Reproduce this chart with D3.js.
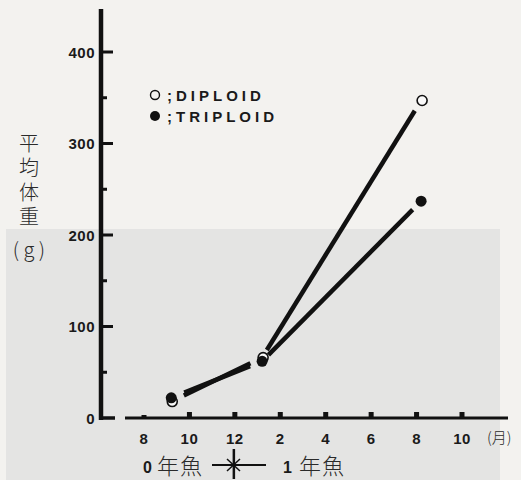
<!DOCTYPE html>
<html>
<head>
<meta charset="utf-8">
<script src="https://cdn.jsdelivr.net/npm/d3@7"></script>
<style>
  body { margin: 0; background: #f3f2ef; }
  svg { display: block; }
  .num { font-family: "Liberation Sans", Arial, sans-serif; font-weight: bold; fill: #1a1a1a; }
  .cjk { font-family: "Noto Sans CJK JP", sans-serif; font-weight: 300; fill: #2a2a2a; }
</style>
</head>
<body>
<div id="chart"></div>
<script>
// month index: 8..12 = year 0, 13..22 = next year (1..10)
var months = [9.2, 13.2, 20.2]
var diploid = [18, 66, 347]
var triploid = [22, 62, 237]
var xTicks = [8, 10, 12, 14, 16, 18, 20, 22]
var yTicks = [0, 100, 200, 300, 400]
var yMinor = [50, 150, 250, 350]
var yLabel = "平均体重"

var W = 521, H = 480
var svg = d3.select("#chart").append("svg").attr("width", W).attr("height", H)

// scanned page background
svg.append("rect").attr("width", W).attr("height", H).attr("fill", "#f3f2ef")
svg.append("rect").attr("x", 6).attr("y", 229).attr("width", 494).attr("height", 251).attr("fill", "#e4e4e3")

var x = d3.scaleLinear().domain([8, 22]).range([144, 462])
var y = d3.scaleLinear().domain([0, 400]).range([418, 52])
var axisX = 101

// y axis
svg.append("line").attr("x1", axisX).attr("x2", axisX).attr("y1", 9).attr("y2", y(0) + 2)
    .attr("stroke", "#111").attr("stroke-width", 4.5)
svg.append("line").attr("x1", axisX).attr("x2", 115).attr("y1", y(0)).attr("y2", y(0))
    .attr("stroke", "#111").attr("stroke-width", 3.5)
svg.selectAll(".ymaj").data(yTicks.slice(1)).enter().append("line")
    .attr("x1", axisX).attr("x2", axisX + 12)
    .attr("y1", function (d) { return y(d) }).attr("y2", function (d) { return y(d) })
    .attr("stroke", "#111").attr("stroke-width", 3)
svg.selectAll(".ymin").data(yMinor).enter().append("line")
    .attr("x1", axisX).attr("x2", axisX + 6)
    .attr("y1", function (d) { return y(d) }).attr("y2", function (d) { return y(d) })
    .attr("stroke", "#111").attr("stroke-width", 3)
svg.selectAll(".ylab").data(yTicks).enter().append("text")
    .attr("class", "num")
    .attr("x", 95).attr("y", function (d) { return y(d) + 5.5 })
    .attr("text-anchor", "end").attr("font-size", 15).attr("letter-spacing", 0.5)
    .text(function (d) { return d })

// x axis
svg.append("line").attr("x1", 125).attr("x2", 508).attr("y1", y(0)).attr("y2", y(0))
    .attr("stroke", "#111").attr("stroke-width", 3)
svg.selectAll(".xt").data(xTicks).enter().append("rect")
    .attr("x", function (d) { return x(d) - 2.5 })
    .attr("y", function (d) { return d == 8 ? y(0) - 3 : y(0) - 6 })
    .attr("width", 5).attr("height", function (d) { return d == 8 ? 3 : 6 })
    .attr("fill", "#111")
svg.selectAll(".xlab").data(xTicks).enter().append("text")
    .attr("class", "num")
    .attr("x", function (d) { return x(d) }).attr("y", 444)
    .attr("text-anchor", "middle").attr("font-size", 15).attr("letter-spacing", 0.5)
    .text(function (d) { return d > 12 ? d - 12 : d })
svg.append("text").attr("class", "cjk").attr("x", 487).attr("y", 443)
    .attr("font-size", 15).text("(月)")

// y label, set vertically
svg.append("text").attr("class", "cjk")
    .attr("x", 29).attr("y", 133)
    .attr("writing-mode", "vertical-rl")
    .attr("font-size", 20).attr("letter-spacing", 4.5)
    .text(yLabel)
svg.append("text").attr("class", "cjk").attr("x", 29).attr("y", 257)
    .attr("text-anchor", "middle").attr("font-size", 20).text("( g )")

// lines drawn with gaps around the markers
function drawSeries(vals, gapA, gapB) {
    for (var i = 0; i < vals.length - 1; i++) {
        var x1 = x(months[i]), y1 = y(vals[i]), x2 = x(months[i + 1]), y2 = y(vals[i + 1])
        var len = Math.sqrt((x2 - x1) * (x2 - x1) + (y2 - y1) * (y2 - y1))
        var ux = (x2 - x1) / len, uy = (y2 - y1) / len
        svg.append("line")
            .attr("x1", x1 + ux * gapA[i]).attr("y1", y1 + uy * gapA[i])
            .attr("x2", x2 - ux * gapB[i]).attr("y2", y2 - uy * gapB[i])
            .attr("stroke", "#111").attr("stroke-width", 4.5).attr("stroke-linecap", "butt")
    }
}
drawSeries(diploid, [14, 9], [13, 12])
drawSeries(triploid, [14, 9], [13, 12])

svg.selectAll(".dp").data(diploid).enter().append("circle")
    .attr("cx", function (d, i) { return x(months[i]) + 1 })
    .attr("cy", function (d) { return y(d) })
    .attr("r", 5).attr("fill", "#fafafa").attr("stroke", "#111").attr("stroke-width", 1.6)
svg.selectAll(".tp").data(triploid).enter().append("circle")
    .attr("cx", function (d, i) { return x(months[i]) })
    .attr("cy", function (d) { return y(d) })
    .attr("r", 5.5).attr("fill", "#111")

// legend
svg.append("circle").attr("cx", 155).attr("cy", 95).attr("r", 4.5)
    .attr("fill", "none").attr("stroke", "#111").attr("stroke-width", 1.4)
svg.append("circle").attr("cx", 155).attr("cy", 116).attr("r", 5).attr("fill", "#111")
svg.append("text").attr("class", "num").attr("x", 167).attr("y", 101)
    .attr("font-size", 15).attr("letter-spacing", 4).text(";DIPLOID")
svg.append("text").attr("class", "num").attr("x", 167).attr("y", 122)
    .attr("font-size", 15).attr("letter-spacing", 4).text(";TRIPLOID")

// year marker at the bottom
svg.append("text").attr("class", "num").attr("x", 143).attr("y", 473).attr("font-size", 16).text("0")
svg.append("text").attr("class", "cjk").attr("x", 157).attr("y", 474).attr("font-size", 22).attr("letter-spacing", 1).text("年魚")
svg.append("line").attr("x1", 212).attr("x2", 266).attr("y1", 465).attr("y2", 465)
    .attr("stroke", "#111").attr("stroke-width", 2)
svg.append("line").attr("x1", x(12) - 1).attr("x2", x(12) - 1).attr("y1", 449).attr("y2", 479)
    .attr("stroke", "#111").attr("stroke-width", 2.5)
svg.append("line").attr("x1", 227).attr("x2", 240).attr("y1", 459).attr("y2", 471)
    .attr("stroke", "#111").attr("stroke-width", 1.5)
svg.append("line").attr("x1", 227).attr("x2", 240).attr("y1", 471).attr("y2", 459)
    .attr("stroke", "#111").attr("stroke-width", 1.5)
svg.append("text").attr("class", "num").attr("x", 283).attr("y", 473).attr("font-size", 16).text("1")
svg.append("text").attr("class", "cjk").attr("x", 299).attr("y", 474).attr("font-size", 22).attr("letter-spacing", 1).text("年魚")
</script>
</body>
</html>
